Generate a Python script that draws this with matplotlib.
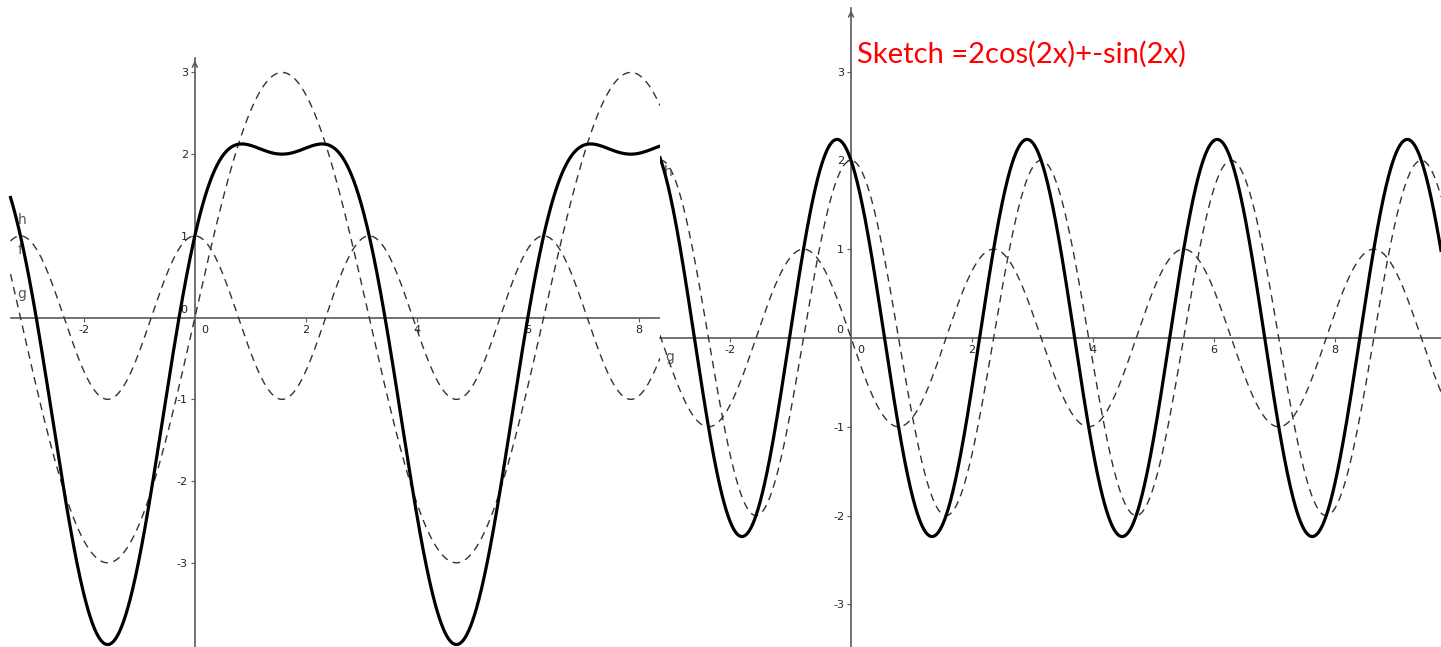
import numpy as np
import matplotlib.pyplot as plt

plt.rcParams['axes.unicode_minus'] = False

# left panel: f = h + g
h_amp, h_freq = 3, 1      # h(x) = 3 sin(x)
g_amp, g_freq = 1, 2      # g(x) = cos(2x)
# right panel: sketch = p + q
p_amp, p_freq = 2, 2      # 2 cos(2x)
q_amp, q_freq = -1, 2     # -sin(2x)

left_xticks = [-2, 2, 4, 6, 8]
left_yticks = [-3, -2, -1, 1, 2, 3]
right_xticks = [-2, 2, 4, 6, 8]
right_yticks = [-3, -2, -1, 1, 2, 3]

title = "Sketch =2cos(2x)+-sin(2x)"

W, H = 1441, 647
split = 660
fig = plt.figure(figsize=(W / 100, H / 100), dpi=100)
ax1 = fig.add_axes([0, 0, split / W, 1])
ax2 = fig.add_axes([split / W, 0, 1 - split / W, 1])

ax1.set_xlim(-3.51, 8.38)
ax1.set_ylim(-4.03, 3.886)
ax2.set_xlim(-3.157, 9.75)
ax2.set_ylim(-3.48, 3.806)
left_start = -3.32   # the left screenshot has a small white margin

AXC = '#5a5a5a'
dash = dict(color='#333333', lw=1.0, dashes=(5.5, 4), zorder=3)
solid = dict(color='black', lw=2.3, zorder=4)


def style_axes(ax, xticks, yticks, xbounds, ytop):
    for s in ['top', 'right']:
        ax.spines[s].set_visible(False)
    for s in ['left', 'bottom']:
        ax.spines[s].set_position(('data', 0))
        ax.spines[s].set_color(AXC)
        ax.spines[s].set_linewidth(1.2)
    ax.spines['left'].set_bounds(ax.get_ylim()[0], ytop)
    ax.spines['bottom'].set_bounds(*xbounds)
    ax.set_xticks(xticks)
    ax.set_yticks(yticks)
    ax.tick_params(direction='out', length=3, width=0.8, color=AXC,
                   labelcolor='#222222', labelsize=8, pad=2)
    ax.annotate('', xy=(0, ytop), xytext=(0, ytop - 0.12),
                arrowprops=dict(arrowstyle='->', lw=1.1, color=AXC,
                                mutation_scale=9))
    ax.annotate('0', xy=(0, 0), xytext=(-11, 8), textcoords='offset pixels',
                ha='center', va='center', fontsize=8, color='#222222')
    ax.annotate('0', xy=(0, 0), xytext=(10, -12), textcoords='offset pixels',
                ha='center', va='center', fontsize=8, color='#222222')


# left panel
x1 = np.linspace(left_start, ax1.get_xlim()[1], 1500)
h = h_amp * np.sin(h_freq * x1)
g = g_amp * np.cos(g_freq * x1)
ax1.plot(x1, h, **dash)
ax1.plot(x1, g, **dash)
ax1.plot(x1, h + g, **solid)
style_axes(ax1, left_xticks, left_yticks, (left_start, ax1.get_xlim()[1]), 3.18)
for lbl, (tx, ty) in zip(['h', 'f', 'g'], [(-3.12, 1.19), (-3.15, 0.83), (-3.12, 0.29)]):
    ax1.text(tx, ty, lbl, fontsize=10, color='#555555', ha='center', va='center')

# right panel
x2 = np.linspace(*ax2.get_xlim(), 2000)
p = p_amp * np.cos(p_freq * x2)
q = q_amp * np.sin(q_freq * x2)
ax2.plot(x2, p, **dash)
ax2.plot(x2, q, **dash)
ax2.plot(x2, p + q, **solid)
style_axes(ax2, right_xticks, right_yticks, ax2.get_xlim(), 3.72)
for lbl, (tx, ty) in zip(['h', 'g'], [(-3.02, 1.87), (-2.99, -0.21)]):
    ax2.text(tx, ty, lbl, fontsize=10, color='#555555', ha='center', va='center')

fig.text(857 / W, 1 - 54 / H, title, fontsize=21, color='#ff0000',
         family='Lato', ha='left', va='center')

fig.savefig('out.png', dpi=100)
